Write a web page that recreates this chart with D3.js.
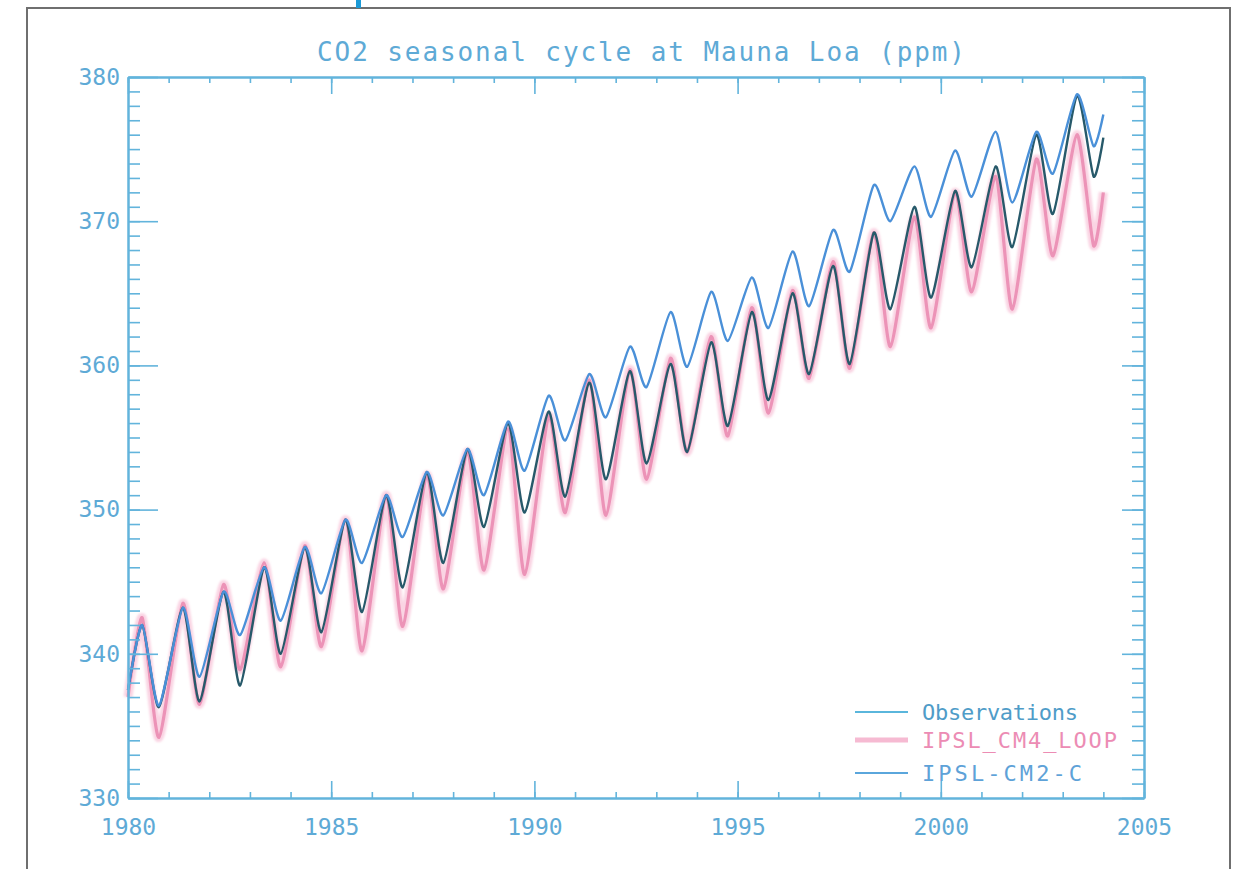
<!DOCTYPE html>
<html><head><meta charset="utf-8">
<script src="https://cdn.jsdelivr.net/npm/d3@7"></script>
<style>
html,body{margin:0;padding:0;background:#fff;}
svg{display:block;}
</style></head>
<body>
<svg id="chart" width="1240" height="869"></svg>
<script>
// ---- data ----
const title = "CO2 seasonal cycle at Mauna Loa (ppm)";
const seriesNames = ["Observations", "IPSL_CM4_LOOP", "IPSL-CM2-C"];
const xTickValues = [1980, 1985, 1990, 1995, 2000, 2005];
const xTickLabels = ["1980", "1985", "1990", "1995", "2000", "2005"];
const yTickValues = [330, 340, 350, 360, 370, 380];
const yTickLabels = ["330", "340", "350", "360", "370", "380"];
const xMinorTicks = [1980,1981,1982,1983,1984,1985,1986,1987,1988,1989,1990,1991,1992,1993,1994,1995,1996,1997,1998,1999,2000,2001,2002,2003,2004,2005];
const yMinorTicks = [330,331,332,333,334,335,336,337,338,339,340,341,342,343,344,345,346,347,348,349,350,351,352,353,354,355,356,357,358,359,360,361,362,363,364,365,366,367,368,369,370,371,372,373,374,375,376,377,378,379,380];

// times of the seasonal maxima / minima (decimal year)
const times = [1980.0,
 1980.35,1980.76, 1981.35,1981.76, 1982.35,1982.76, 1983.35,1983.76,
 1984.35,1984.76, 1985.35,1985.76, 1986.35,1986.76, 1987.35,1987.76,
 1988.35,1988.76, 1989.35,1989.76, 1990.35,1990.76, 1991.35,1991.76,
 1992.35,1992.76, 1993.35,1993.76, 1994.35,1994.76, 1995.35,1995.76,
 1996.35,1996.76, 1997.35,1997.76, 1998.35,1998.76, 1999.35,1999.76,
 2000.35,2000.76, 2001.35,2001.76, 2002.35,2002.76, 2003.35,2003.76,
 2004.0];

const observations = [337.5,
 342.0,336.3, 343.2,336.7, 344.3,337.8, 346.0,340.0,
 347.4,341.5, 349.3,342.9, 351.0,344.6, 352.6,346.3,
 354.2,348.8, 356.0,349.8, 356.8,350.9, 358.8,352.1,
 359.6,353.2, 360.1,354.0, 361.6,355.8, 363.7,357.6,
 365.0,359.4, 366.9,360.1, 369.2,363.9, 371.0,364.7,
 372.1,366.8, 373.8,368.2, 376.0,370.5, 378.7,373.1,
 375.8];

const ipslCM4Loop = [337.0,
 342.5,334.2, 343.5,336.5, 344.8,338.9, 346.3,339.1,
 347.5,340.5, 349.3,340.2, 351.0,341.9, 352.4,344.5,
 354.0,345.8, 355.6,345.5, 356.5,349.8, 359.0,349.6,
 359.7,352.1, 360.5,354.0, 362.0,355.1, 364.0,356.7,
 365.2,359.1, 367.2,359.8, 369.2,361.3, 370.3,362.6,
 372.0,365.1, 373.1,363.9, 374.3,367.6, 376.0,368.3,
 372.0];

const ipslCM2C = [337.5,
 342.0,336.4, 343.2,338.4, 344.3,341.3, 346.0,342.3,
 347.4,344.2, 349.3,346.3, 351.0,348.1, 352.6,349.6,
 354.2,351.0, 356.1,352.7, 357.9,354.8, 359.4,356.4,
 361.3,358.5, 363.7,359.9, 365.1,361.7, 366.1,362.6,
 367.9,364.1, 369.4,366.5, 372.5,370.0, 373.8,370.3,
 374.9,371.7, 376.2,371.3, 376.2,373.3, 378.8,375.2,
 377.4];

// ---- drawing ----
const svg = d3.select("#chart");
const FONT = "'DejaVu Sans Mono', 'Liberation Mono', monospace";
const axisColor = "#62b4dc";
const textColor = "#5eaad6";

const defs = svg.append("defs");
defs.append("filter").attr("id","soft").append("feGaussianBlur").attr("stdDeviation",0.5);
defs.append("filter").attr("id","softer").append("feGaussianBlur").attr("stdDeviation",1.2);

svg.append("rect").attr("width",1240).attr("height",869).attr("fill","#fff");

// outer grey frame (open at the bottom)
svg.append("path")
  .attr("d","M27,869 L27,8 L1230,8 L1230,869")
  .attr("fill","none").attr("stroke","#6f6f6f").attr("stroke-width",2);
// small blue mark at top
svg.append("rect").attr("x",356).attr("y",0).attr("width",5).attr("height",8).attr("fill","#1b9ad7");

const x = d3.scaleLinear().domain([1980, 2005]).range([128, 1144]);
const y = d3.scaleLinear().domain([330, 380]).range([798, 77]);

// title
svg.append("text")
  .attr("x", 317).attr("y", 61)
  .attr("textLength", 648).attr("lengthAdjust", "spacing")
  .attr("font-family", FONT).attr("font-size", 26)
  .attr("fill", textColor)
  .text(title);

// data lines
const ptsOf = vals => times.map((t,i)=>[t, vals[i]]);
const line = d3.line().x(d=>x(d[0])).y(d=>y(d[1])).curve(d3.curveCardinal.tension(0.35));

const gLines = svg.append("g");
// pink model: broad faded band + core
gLines.append("path").datum(ptsOf(ipslCM4Loop)).attr("d", line)
  .attr("fill","none").attr("stroke","#f3a0c0").attr("stroke-width",9)
  .attr("stroke-opacity",0.45).attr("stroke-linejoin","round")
  .attr("filter","url(#softer)");
gLines.append("path").datum(ptsOf(ipslCM4Loop)).attr("d", line)
  .attr("fill","none").attr("stroke","#e2689a").attr("stroke-width",3.2)
  .attr("stroke-opacity",0.6).attr("stroke-linejoin","round")
  .attr("filter","url(#soft)");
// observations (dark)
gLines.append("path").datum(ptsOf(observations)).attr("d", line)
  .attr("fill","none").attr("stroke","#27596a").attr("stroke-width",2.4)
  .attr("stroke-linejoin","round");
// IPSL-CM2-C (blue)
gLines.append("path").datum(ptsOf(ipslCM2C)).attr("d", line)
  .attr("fill","none").attr("stroke","#4a90d8").attr("stroke-width",2.4)
  .attr("stroke-linejoin","round");

// axes
function styleAxis(g){
  g.select(".domain").attr("stroke", axisColor).attr("stroke-width", 2);
  g.selectAll(".tick line").attr("stroke", axisColor).attr("stroke-width", 1.6);
  g.selectAll(".tick text").attr("fill", textColor)
    .attr("font-family", FONT).attr("font-size", 23);
}
// bottom
svg.append("g").attr("transform","translate(0,798)")
  .call(d3.axisBottom(x).tickValues(xMinorTicks).tickSizeInner(-6).tickSizeOuter(0).tickFormat(""))
  .call(styleAxis);
svg.append("g").attr("transform","translate(0,798)")
  .call(d3.axisBottom(x).tickValues(xTickValues).tickSizeInner(-17).tickSizeOuter(0).tickPadding(21)
        .tickFormat((d,i)=>xTickLabels[i]))
  .call(styleAxis);
// top
svg.append("g").attr("transform","translate(0,77)")
  .call(d3.axisTop(x).tickValues(xMinorTicks).tickSizeInner(-6).tickSizeOuter(0).tickFormat(""))
  .call(styleAxis);
svg.append("g").attr("transform","translate(0,77)")
  .call(d3.axisTop(x).tickValues(xTickValues).tickSizeInner(-17).tickSizeOuter(0).tickFormat(""))
  .call(styleAxis);
// left
svg.append("g").attr("transform","translate(128,0)")
  .call(d3.axisLeft(y).tickValues(yMinorTicks).tickSizeInner(-12).tickSizeOuter(0).tickFormat(""))
  .call(styleAxis);
svg.append("g").attr("transform","translate(128,0)")
  .call(d3.axisLeft(y).tickValues(yTickValues).tickSizeInner(-30).tickSizeOuter(0).tickPadding(8)
        .tickFormat((d,i)=>yTickLabels[i]))
  .call(styleAxis);
// right
svg.append("g").attr("transform","translate(1144,0)")
  .call(d3.axisRight(y).tickValues(yMinorTicks).tickSizeInner(-12).tickSizeOuter(0).tickFormat(""))
  .call(styleAxis);
svg.append("g").attr("transform","translate(1144,0)")
  .call(d3.axisRight(y).tickValues(yTickValues).tickSizeInner(-22).tickSizeOuter(0).tickFormat(""))
  .call(styleAxis);

// legend
const legendLineColors = ["#5ab6dc", "#f08cb4", "#5aa6dc"];
const legendLineWidths = [2, 5, 2];
const legendTextColors = ["#4f9cc8", "#ec8cb4", "#5ea2d8"];
const legendTextLengths = [156, 195, 160];
const legendYs = [712, 740, 773];
const lg = svg.append("g");
seriesNames.forEach((name,i)=>{
  lg.append("line").attr("x1",855).attr("x2",908).attr("y1",legendYs[i]).attr("y2",legendYs[i])
    .attr("stroke",legendLineColors[i]).attr("stroke-width",legendLineWidths[i])
    .attr("stroke-opacity", i===1?0.6:1);
  lg.append("text").attr("x",922).attr("y",legendYs[i]+8)
    .attr("textLength",legendTextLengths[i]).attr("lengthAdjust","spacing")
    .attr("font-family",FONT).attr("font-size",22)
    .attr("fill",legendTextColors[i]).text(name);
});
</script>
</body></html>
